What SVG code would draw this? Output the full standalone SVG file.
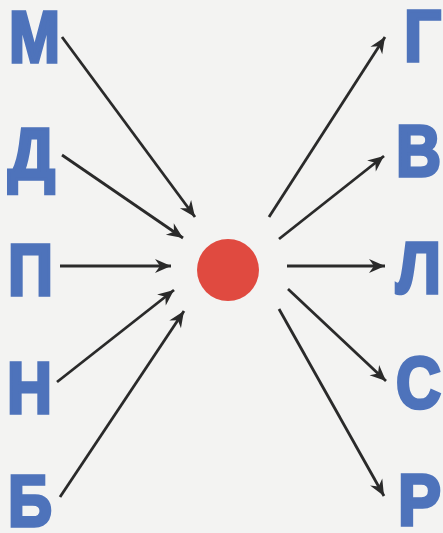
<svg xmlns="http://www.w3.org/2000/svg" width="443" height="533" viewBox="0 0 443 533">
<style>
.ltr{font-family:"Liberation Sans",Arial,sans-serif;font-weight:bold;font-size:73px;fill:#4e73bb;stroke:#4e73bb;stroke-width:3.5;stroke-linejoin:miter}
.arr{stroke:#2a2a2a;stroke-width:2.8;fill:none;marker-end:url(#ah)}
</style>
<defs>
<marker id="ah" markerUnits="userSpaceOnUse" markerWidth="22" markerHeight="18" viewBox="-18 -9 20 18" refX="0" refY="0" orient="auto">
<path d="M0,0 L-16,-7 L-11,0 L-16,7 Z" fill="#2a2a2a"/>
</marker>
</defs>
<rect width="443" height="533" fill="#f3f3f2"/>
<g id="M"><text class="ltr" x="9" y="62" textLength="51" lengthAdjust="spacingAndGlyphs">М</text></g>
<g id="D"><text class="ltr" x="8" y="179" textLength="47" lengthAdjust="spacingAndGlyphs">Д</text></g>
<g id="P"><text class="ltr" x="8" y="295" textLength="45" lengthAdjust="spacingAndGlyphs">П</text></g>
<g id="N"><text class="ltr" x="7" y="413" textLength="45" lengthAdjust="spacingAndGlyphs">Н</text></g>
<g id="B"><text class="ltr" x="8" y="526" textLength="44" lengthAdjust="spacingAndGlyphs">Б</text></g>
<g id="G"><text class="ltr" x="404" y="61" textLength="37" lengthAdjust="spacingAndGlyphs">Г</text></g>
<g id="V"><text class="ltr" x="396" y="176" textLength="45" lengthAdjust="spacingAndGlyphs">В</text></g>
<g id="L"><text class="ltr" x="396" y="293" textLength="45" lengthAdjust="spacingAndGlyphs">Л</text></g>
<g id="S"><text class="ltr" x="396" y="408" textLength="45" lengthAdjust="spacingAndGlyphs">С</text></g>
<g id="R"><text class="ltr" x="398" y="525" textLength="43" lengthAdjust="spacingAndGlyphs">Р</text></g>
<g id="center"><circle cx="228" cy="270" r="31" fill="#e04a40"/></g>
<g id="connectors">
<line class="arr" x1="62" y1="37" x2="195" y2="217"/>
<line class="arr" x1="62" y1="155" x2="183" y2="238"/>
<line class="arr" x1="60" y1="266" x2="171" y2="266"/>
<line class="arr" x1="57" y1="382" x2="174" y2="290"/>
<line class="arr" x1="60" y1="497" x2="184" y2="311"/>
<line class="arr" x1="269" y1="217" x2="385" y2="37"/>
<line class="arr" x1="279" y1="239" x2="384" y2="156"/>
<line class="arr" x1="287" y1="266" x2="385" y2="266"/>
<line class="arr" x1="288" y1="289" x2="386" y2="381"/>
<line class="arr" x1="279" y1="309" x2="384" y2="496"/>
</g>
</svg>
